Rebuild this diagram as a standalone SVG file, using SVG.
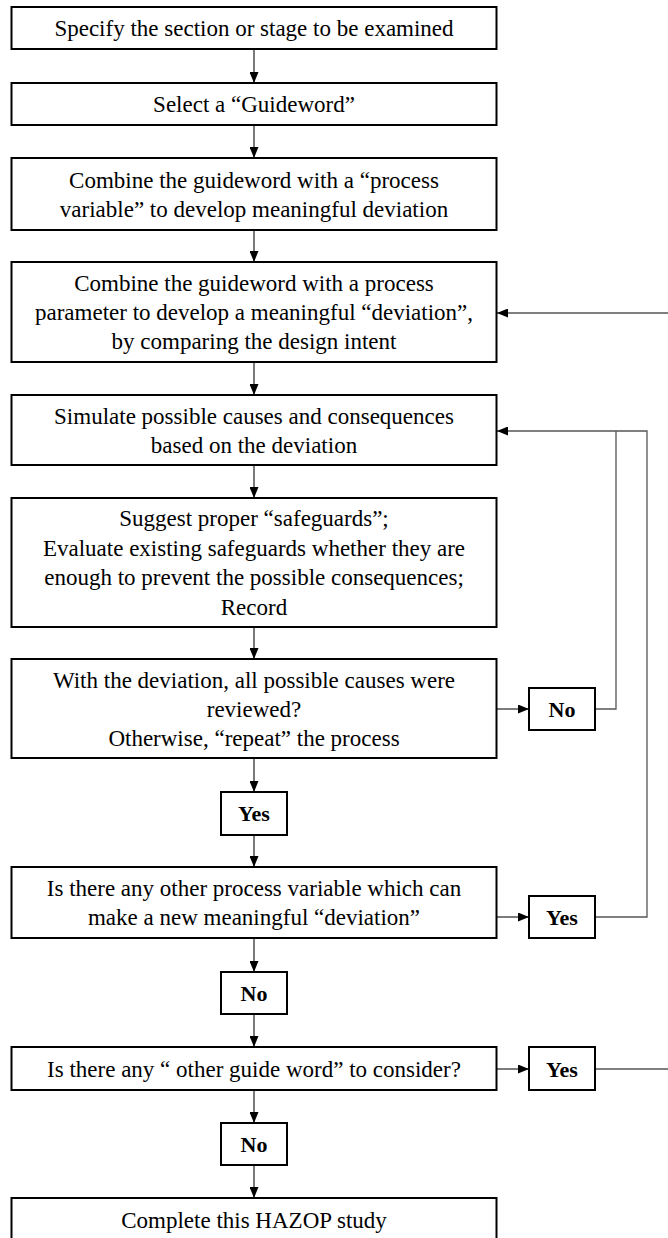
<svg xmlns="http://www.w3.org/2000/svg" width="668" height="1238" viewBox="0 0 668 1238">
  <style>
    .box { fill: #ffffff; stroke: #000000; stroke-width: 2; }
    .txt { font-family: "Liberation Serif", "Times New Roman", serif; font-size: 23px; fill: #000000; text-anchor: middle; }
    .lbl { font-family: "Liberation Serif", "Times New Roman", serif; font-size: 22px; font-weight: bold; fill: #000000; text-anchor: middle; }
    .link { fill: none; stroke: #333333; stroke-width: 1.3; }
    .loop { fill: none; stroke: #555555; stroke-width: 1.3; }
  </style>
  <defs>
    <marker id="arrow" viewBox="0 0 11 9" refX="11" refY="4.5" markerWidth="11" markerHeight="9" orient="auto" markerUnits="userSpaceOnUse">
      <path d="M0,0 L11,4.5 L0,9 Z" fill="#000000"/>
    </marker>
  </defs>
  <rect width="668" height="1238" fill="#ffffff"/>

  <!-- connectors -->
  <g id="connectors">
    <line class="link" x1="254" y1="49" x2="254" y2="83" marker-end="url(#arrow)"/>
    <line class="link" x1="254" y1="125" x2="254" y2="158" marker-end="url(#arrow)"/>
    <line class="link" x1="254" y1="230" x2="254" y2="262" marker-end="url(#arrow)"/>
    <line class="link" x1="254" y1="362" x2="254" y2="395" marker-end="url(#arrow)"/>
    <line class="link" x1="254" y1="465" x2="254" y2="498" marker-end="url(#arrow)"/>
    <line class="link" x1="254" y1="627" x2="254" y2="659" marker-end="url(#arrow)"/>
    <line class="link" x1="254" y1="758" x2="254" y2="792" marker-end="url(#arrow)"/>
    <line class="link" x1="254" y1="835" x2="254" y2="867" marker-end="url(#arrow)"/>
    <line class="link" x1="254" y1="938" x2="254" y2="972" marker-end="url(#arrow)"/>
    <line class="link" x1="254" y1="1014" x2="254" y2="1047" marker-end="url(#arrow)"/>
    <line class="link" x1="254" y1="1090" x2="254" y2="1123" marker-end="url(#arrow)"/>
    <line class="link" x1="254" y1="1165" x2="254" y2="1198" marker-end="url(#arrow)"/>

    <line class="link" x1="497" y1="709" x2="529" y2="709" marker-end="url(#arrow)"/>
    <line class="link" x1="497" y1="917" x2="529" y2="917" marker-end="url(#arrow)"/>
    <line class="link" x1="497" y1="1069" x2="529" y2="1069" marker-end="url(#arrow)"/>

    <!-- feedback loops -->
    <polyline class="loop" points="595,709 616,709 616,431"/>
    <polyline class="loop" points="595,917 647,917 647,431 497,431" marker-end="url(#arrow)"/>
    <line class="loop" x1="668" y1="313" x2="497" y2="313" marker-end="url(#arrow)"/>
    <line class="loop" x1="595" y1="1069" x2="668" y2="1069"/>
  </g>

  <g id="n1">
    <rect class="box" x="11.5" y="7" width="485" height="42"/>
    <text class="txt" x="254" y="36">Specify the section or stage to be examined</text>
  </g>
  <g id="n2">
    <rect class="box" x="11.5" y="83" width="485" height="42"/>
    <text class="txt" x="254" y="112">Select a “Guideword”</text>
  </g>
  <g id="n3">
    <rect class="box" x="11.5" y="158" width="485" height="72"/>
    <text class="txt" x="254" y="188">Combine the guideword with a “process</text>
    <text class="txt" x="254" y="217">variable” to develop meaningful deviation</text>
  </g>
  <g id="n4">
    <rect class="box" x="11.5" y="262" width="485" height="100"/>
    <text class="txt" x="254" y="291">Combine the guideword with a process</text>
    <text class="txt" x="254" y="320">parameter to develop a meaningful “deviation”,</text>
    <text class="txt" x="254" y="349">by comparing the design intent</text>
  </g>
  <g id="n5">
    <rect class="box" x="11.5" y="395" width="485" height="70"/>
    <text class="txt" x="254" y="424">Simulate possible causes and consequences</text>
    <text class="txt" x="254" y="453">based on the deviation</text>
  </g>
  <g id="n6">
    <rect class="box" x="11.5" y="498" width="485" height="129"/>
    <text class="txt" x="254" y="526">Suggest proper “safeguards”;</text>
    <text class="txt" x="254" y="556">Evaluate existing safeguards whether they are</text>
    <text class="txt" x="254" y="585">enough to prevent the possible consequences;</text>
    <text class="txt" x="254" y="615">Record</text>
  </g>
  <g id="n7">
    <rect class="box" x="11.5" y="659" width="485" height="99"/>
    <text class="txt" x="254" y="688">With the deviation, all possible causes were</text>
    <text class="txt" x="254" y="717">reviewed?</text>
    <text class="txt" x="254" y="746">Otherwise, “repeat” the process</text>
  </g>
  <g id="n7-no">
    <rect class="box" x="529" y="688" width="66" height="42"/>
    <text class="lbl" x="562" y="717">No</text>
  </g>
  <g id="n7-yes">
    <rect class="box" x="221" y="792" width="66" height="43"/>
    <text class="lbl" x="254" y="821">Yes</text>
  </g>
  <g id="n8">
    <rect class="box" x="11.5" y="867" width="485" height="71"/>
    <text class="txt" x="254" y="896">Is there any other process variable which can</text>
    <text class="txt" x="254" y="925">make a new meaningful “deviation”</text>
  </g>
  <g id="n8-yes">
    <rect class="box" x="529" y="896" width="66" height="42"/>
    <text class="lbl" x="562" y="925">Yes</text>
  </g>
  <g id="n8-no">
    <rect class="box" x="221" y="972" width="66" height="42"/>
    <text class="lbl" x="254" y="1001">No</text>
  </g>
  <g id="n9">
    <rect class="box" x="11.5" y="1047" width="485" height="43"/>
    <text class="txt" x="254" y="1077">Is there any “ other guide word” to consider?</text>
  </g>
  <g id="n9-yes">
    <rect class="box" x="529" y="1047" width="66" height="43"/>
    <text class="lbl" x="562" y="1077">Yes</text>
  </g>
  <g id="n9-no">
    <rect class="box" x="221" y="1123" width="66" height="42"/>
    <text class="lbl" x="254" y="1152">No</text>
  </g>
  <g id="n10">
    <rect class="box" x="11.5" y="1198" width="485" height="60"/>
    <text class="txt" x="254" y="1228">Complete this HAZOP study</text>
  </g>
</svg>
